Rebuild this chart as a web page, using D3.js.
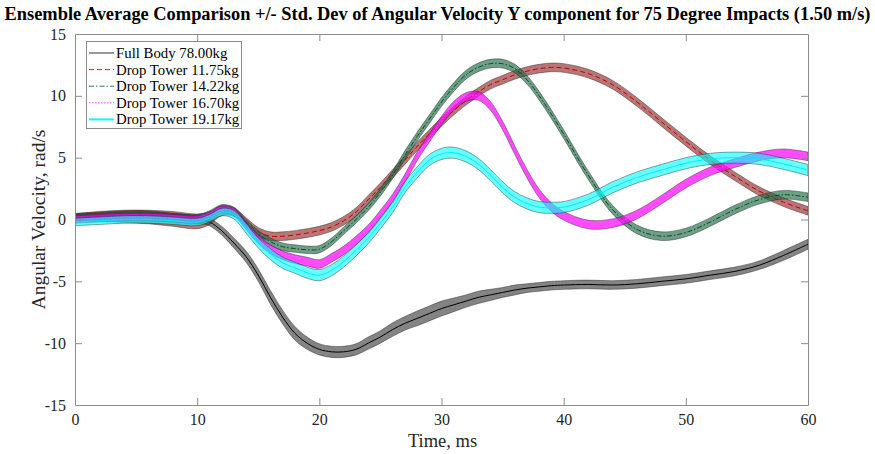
<!DOCTYPE html>
<html>
<head>
<meta charset="utf-8">
<style>
  body { margin: 0; background: #fff; }
  svg text { font-family: "Liberation Serif", "Times New Roman", serif; }
</style>
</head>
<body>
<svg id="chart" width="875" height="454"></svg>
<script src="https://cdn.jsdelivr.net/npm/d3@7"></script>
<script>
// sample times (ms)
var times = [0,2,4,6,8,10,11,12,13,14,15,16,17,18,19,20,21,22,23,24,25,26,27,28,29,30,31,32,33,34,35,36,37,38,39,40,42,44,46,48,50,52,54,56,58,60];

// ensemble means, rad/s
var fullBody = [0.2,0.3,0.4,0.4,0.2,0.0,-0.2,-0.9,-1.9,-3.0,-4.5,-6.3,-7.9,-9.2,-10.0,-10.5,-10.7,-10.7,-10.5,-10.0,-9.5,-8.9,-8.4,-8.0,-7.6,-7.2,-6.9,-6.6,-6.3,-6.1,-5.9,-5.7,-5.55,-5.45,-5.35,-5.3,-5.25,-5.3,-5.2,-5.0,-4.8,-4.5,-4.2,-3.7,-2.9,-2.0];
var dt1175 = [0.15,0.25,0.25,0.2,0.05,-0.15,0.1,0.7,0.6,-0.2,-1.0,-1.35,-1.35,-1.25,-1.1,-0.9,-0.6,-0.1,0.6,1.6,2.6,3.7,4.8,5.9,6.9,7.9,8.8,9.6,10.3,10.9,11.3,11.7,12.0,12.2,12.3,12.25,11.8,10.9,9.5,7.9,6.3,4.8,3.5,2.3,1.4,0.7];
var dt1422 = [0.1,0.2,0.3,0.3,0.2,0.1,0.4,0.9,0.7,-0.3,-1.2,-1.8,-2.2,-2.35,-2.45,-2.4,-1.8,-0.9,0.0,1.0,2.2,3.6,5.2,6.7,8.1,9.5,10.7,11.7,12.3,12.6,12.6,12.2,11.3,10.0,8.5,6.9,3.6,0.8,-0.8,-1.35,-1.05,-0.2,0.8,1.6,2.0,1.8];
var dt1670 = [0.0,0.1,0.2,0.2,0.1,0.0,0.3,0.8,0.6,-0.5,-1.6,-2.4,-2.9,-3.2,-3.4,-3.6,-3.1,-2.5,-1.7,-0.8,0.4,1.7,3.3,5.1,6.6,8.0,9.2,9.9,10.0,9.2,7.6,5.6,3.7,2.1,1.0,0.3,-0.4,-0.3,0.4,1.6,2.9,3.9,4.55,5.1,5.35,5.1];
var dt1917 = [-0.2,-0.1,0.0,0.0,-0.1,-0.2,0.1,0.6,0.4,-0.7,-1.9,-2.8,-3.5,-3.9,-4.3,-4.5,-4.1,-3.4,-2.5,-1.5,-0.3,1.0,2.6,3.8,4.8,5.3,5.4,5.1,4.5,3.6,2.6,1.8,1.3,1.0,0.95,1.0,1.6,2.6,3.4,4.0,4.55,4.9,5.0,4.9,4.5,4.0];

// standard deviations, rad/s
var sdFullBody = [0.3,0.3,0.3,0.3,0.3,0.3,0.3,0.35,0.4,0.45,0.5,0.55,0.55,0.55,0.5,0.45,0.45,0.45,0.45,0.5,0.5,0.55,0.55,0.6,0.6,0.6,0.55,0.5,0.5,0.45,0.4,0.4,0.35,0.35,0.35,0.35,0.35,0.35,0.35,0.35,0.35,0.35,0.35,0.35,0.4,0.4];
var sd1175 = [0.3,0.4,0.5,0.55,0.6,0.6,0.5,0.4,0.35,0.35,0.35,0.35,0.35,0.35,0.35,0.35,0.35,0.35,0.35,0.35,0.35,0.35,0.35,0.35,0.35,0.35,0.35,0.35,0.35,0.35,0.35,0.35,0.35,0.35,0.35,0.35,0.35,0.35,0.35,0.35,0.35,0.35,0.35,0.35,0.35,0.35];
var sd1422 = [0.3,0.3,0.3,0.3,0.3,0.3,0.3,0.3,0.3,0.3,0.3,0.3,0.3,0.3,0.3,0.3,0.3,0.3,0.3,0.3,0.3,0.3,0.35,0.35,0.35,0.35,0.35,0.35,0.35,0.35,0.35,0.35,0.35,0.35,0.35,0.35,0.35,0.35,0.35,0.35,0.35,0.35,0.35,0.35,0.35,0.35];
var sd1670 = [0.3,0.3,0.3,0.3,0.3,0.3,0.3,0.3,0.3,0.3,0.35,0.35,0.35,0.35,0.35,0.35,0.35,0.35,0.35,0.35,0.35,0.35,0.35,0.35,0.35,0.35,0.35,0.35,0.35,0.35,0.35,0.35,0.35,0.35,0.35,0.35,0.35,0.35,0.35,0.35,0.35,0.35,0.35,0.35,0.35,0.35];
var sd1917 = [0.3,0.3,0.3,0.3,0.3,0.3,0.3,0.3,0.35,0.4,0.4,0.45,0.45,0.45,0.45,0.45,0.45,0.45,0.45,0.45,0.45,0.45,0.45,0.45,0.45,0.45,0.45,0.45,0.45,0.45,0.45,0.45,0.45,0.45,0.45,0.45,0.45,0.45,0.45,0.45,0.45,0.45,0.45,0.45,0.45,0.45];

var labels = ["Full Body 78.00kg", "Drop Tower 11.75kg", "Drop Tower 14.22kg", "Drop Tower 16.70kg", "Drop Tower 19.17kg"];
var xTicks = [0, 10, 20, 30, 40, 50, 60];
var yTicks = [-15, -10, -5, 0, 5, 10, 15];

var series = [
  {name: labels[0], mean: fullBody, sd: sdFullBody, fill: "#555", fillOp: 0.72, line: "#000", dash: null, lw: 1},
  {name: labels[1], mean: dt1175, sd: sd1175, fill: "#8b1a1a", fillOp: 0.6, line: "#c00000", dash: "5,3", lw: 1},
  {name: labels[2], mean: dt1422, sd: sd1422, fill: "#1f6a45", fillOp: 0.65, line: "#0f4a2c", dash: "5,2,1.5,2", lw: 1},
  {name: labels[3], mean: dt1670, sd: sd1670, fill: "#ff00ff", fillOp: 0.7, line: "#ff40ff", dash: "1.5,1.5", lw: 1},
  {name: labels[4], mean: dt1917, sd: sd1917, fill: "#00ffff", fillOp: 0.6, line: "#00eeee", dash: null, lw: 1}
];

var svg = d3.select("#chart");
var pLeft = 75, pRight = 808, pTop = 34, pBottom = 405;

var x = d3.scaleLinear().domain([0, 60]).range([pLeft, pRight]);
var y = d3.scaleLinear().domain([-15, 15]).range([pBottom, pTop]);

svg.append("rect").attr("width", 875).attr("height", 454).attr("fill", "#fff");

svg.append("clipPath").attr("id", "plotclip")
  .append("rect").attr("x", pLeft).attr("y", pTop).attr("width", pRight - pLeft).attr("height", pBottom - pTop);

var plot = svg.append("g").attr("clip-path", "url(#plotclip)");

series.forEach(function(s) {
  var pts = times.map(function(t, i) { return {t: t, m: s.mean[i], sd: s.sd[i]}; });
  var area = d3.area()
    .x(function(d) { return x(d.t); })
    .y0(function(d) { return y(d.m - d.sd); })
    .y1(function(d) { return y(d.m + d.sd); })
    .curve(d3.curveCatmullRom.alpha(0.5));
  var line = d3.line()
    .x(function(d) { return x(d.t); })
    .y(function(d) { return y(d.m); })
    .curve(d3.curveCatmullRom.alpha(0.5));

  plot.append("path")
    .attr("d", area(pts))
    .attr("fill", s.fill)
    .attr("fill-opacity", s.fillOp)
    .attr("stroke", "#222")
    .attr("stroke-opacity", 0.55)
    .attr("stroke-width", 0.8);

  plot.append("path")
    .attr("d", line(pts))
    .attr("fill", "none")
    .attr("stroke", s.line)
    .attr("stroke-width", s.lw)
    .attr("stroke-dasharray", s.dash);
});

// axes box with inward ticks on all sides
var axisColor = "#8c8c8c";
var tickLen = 7;
var plain = function(d) { return String(d); };

var xb = svg.append("g").attr("transform", "translate(0," + pBottom + ")")
  .call(d3.axisBottom(x).tickValues(xTicks).tickFormat(plain).tickSizeInner(-tickLen).tickSizeOuter(0).tickPadding(9));
var xt = svg.append("g").attr("transform", "translate(0," + pTop + ")")
  .call(d3.axisTop(x).tickValues(xTicks).tickSizeInner(-tickLen).tickSizeOuter(0).tickFormat(""));
var yl = svg.append("g").attr("transform", "translate(" + pLeft + ",0)")
  .call(d3.axisLeft(y).tickValues(yTicks).tickFormat(plain).tickSizeInner(-tickLen).tickSizeOuter(0).tickPadding(9));
var yr = svg.append("g").attr("transform", "translate(" + pRight + ",0)")
  .call(d3.axisRight(y).tickValues(yTicks).tickSizeInner(-tickLen).tickSizeOuter(0).tickFormat(""));

[xb, xt, yl, yr].forEach(function(g) {
  g.attr("font-family", null).attr("font-size", null);
  g.selectAll("path").attr("stroke", axisColor);
  g.selectAll("line").attr("stroke", axisColor);
  g.selectAll("text")
    .attr("fill", "#262626")
    .style("font-family", "'Liberation Serif', serif")
    .style("font-size", "16px");
});
xb.selectAll(".tick").filter(function(d) { return d === 0 || d === 60; }).select("line").remove();
yl.selectAll(".tick").filter(function(d) { return d === -15 || d === 15; }).select("line").remove();
xt.selectAll(".tick").filter(function(d) { return d === 0 || d === 60; }).select("line").remove();
yr.selectAll(".tick").filter(function(d) { return d === -15 || d === 15; }).select("line").remove();

// title and axis labels
svg.append("text")
  .attr("x", 437.5).attr("y", 20)
  .attr("text-anchor", "middle")
  .attr("font-weight", "bold")
  .attr("font-size", 18.4)
  .attr("fill", "#000")
  .text("Ensemble Average Comparison +/- Std. Dev of Angular Velocity Y component for 75 Degree Impacts (1.50 m/s)");

svg.append("text")
  .attr("x", (pLeft + pRight) / 2 + 1).attr("y", 447)
  .attr("text-anchor", "middle")
  .attr("font-size", 18.5)
  .attr("fill", "#262626")
  .text("Time, ms");

svg.append("text")
  .attr("transform", "translate(45," + ((pTop + pBottom) / 2) + ") rotate(-90)")
  .attr("text-anchor", "middle")
  .attr("font-size", 19.5)
  .attr("fill", "#262626")
  .text("Angular Velocity, rad/s");

// legend
var lg = svg.append("g");
lg.append("rect")
  .attr("x", 86.5).attr("y", 41.5).attr("width", 155).attr("height", 87)
  .attr("fill", "#fff").attr("stroke", "#8c8c8c").attr("stroke-width", 1);

var legendLines = [
  {c: "#333", dash: null, w: 1},
  {c: "#c03030", dash: "5,3", w: 1},
  {c: "#2e7d5b", dash: "5,2,1.5,2", w: 1},
  {c: "#ff40ff", dash: "1.5,1.5", w: 1},
  {c: "#00ffff", dash: null, w: 2}
];
labels.forEach(function(lab, i) {
  var ly = 53 + i * 16.6;
  lg.append("line")
    .attr("x1", 89).attr("x2", 114).attr("y1", ly).attr("y2", ly)
    .attr("stroke", legendLines[i].c)
    .attr("stroke-width", legendLines[i].w)
    .attr("stroke-dasharray", legendLines[i].dash);
  lg.append("text")
    .attr("x", 116).attr("y", ly + 5)
    .attr("font-size", 14.8)
    .attr("fill", "#000")
    .text(lab);
});
</script>
</body>
</html>
